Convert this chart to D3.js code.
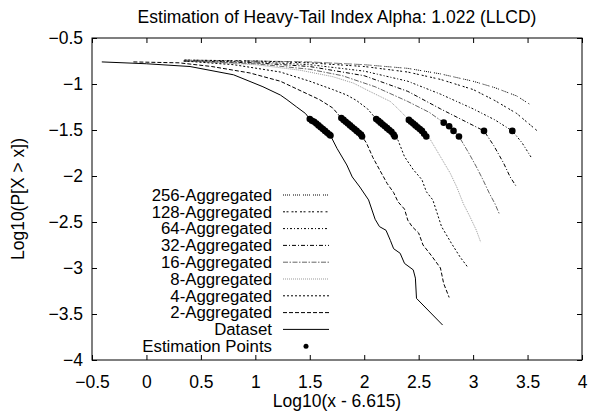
<!DOCTYPE html>
<html lang="en">
<head>
<meta charset="utf-8">
<title>Heavy-Tail Index LLCD</title>
<script src="https://cdnjs.cloudflare.com/ajax/libs/d3/7.8.5/d3.min.js"></script>
<style>
  body { margin: 0; background: #fff; }
  text { font-family: "Liberation Sans", Arial, sans-serif; font-size: 17.5px; fill: #000; }
</style>
</head>
<body>
<script>
// series values: [log10(x - 6.615), log10(P[X > x])]
var dataset = [[-0.41,-0.76],[0.0,-0.78],[0.4,-0.81],[0.8,-0.90],[1.07,-1.03],[1.23,-1.12],[1.29,-1.17],[1.38,-1.25],[1.46,-1.32],[1.50,-1.38],[1.56,-1.43],[1.62,-1.49],[1.69,-1.56],[1.75,-1.70],[1.84,-1.88],[1.89,-2.01],[1.96,-2.12],[2.04,-2.26],[2.10,-2.47],[2.14,-2.55],[2.20,-2.59],[2.24,-2.70],[2.27,-2.79],[2.33,-2.84],[2.37,-2.95],[2.45,-3.02],[2.47,-3.11],[2.48,-3.33],[2.72,-3.62]];
var agg2 = [[-0.12,-0.76],[0.3,-0.77],[0.6,-0.81],[0.95,-0.88],[1.23,-0.97],[1.41,-1.07],[1.59,-1.17],[1.71,-1.26],[1.79,-1.37],[1.88,-1.46],[1.98,-1.57],[2.02,-1.64],[2.08,-1.80],[2.14,-1.93],[2.21,-2.08],[2.27,-2.18],[2.31,-2.28],[2.37,-2.36],[2.40,-2.48],[2.44,-2.55],[2.50,-2.62],[2.54,-2.75],[2.62,-2.87],[2.70,-3.00],[2.73,-3.17],[2.78,-3.32]];
var agg4 = [[0.34,-0.75],[0.8,-0.79],[1.23,-0.87],[1.5,-0.97],[1.71,-1.06],[1.84,-1.12],[1.93,-1.18],[2.03,-1.27],[2.11,-1.38],[2.20,-1.47],[2.28,-1.57],[2.31,-1.61],[2.37,-1.79],[2.45,-1.93],[2.53,-2.04],[2.57,-2.17],[2.63,-2.26],[2.71,-2.55],[2.80,-2.73],[2.88,-2.88],[2.95,-2.99]];
var agg8 = [[0.37,-0.75],[1.0,-0.79],[1.41,-0.85],[1.71,-0.92],[1.90,-0.99],[2.05,-1.08],[2.24,-1.19],[2.32,-1.28],[2.41,-1.39],[2.50,-1.48],[2.57,-1.57],[2.60,-1.59],[2.70,-1.79],[2.79,-1.97],[2.85,-2.12],[2.91,-2.30],[2.97,-2.44],[3.03,-2.59],[3.07,-2.72]];
var agg16 = [[0.35,-0.75],[1.0,-0.78],[1.5,-0.84],[1.8,-0.91],[2.1,-1.03],[2.4,-1.19],[2.6,-1.31],[2.73,-1.42],[2.78,-1.46],[2.82,-1.51],[2.87,-1.57],[2.96,-1.75],[3.03,-1.90],[3.09,-2.04],[3.15,-2.19],[3.20,-2.30],[3.24,-2.41]];
var agg32 = [[0.35,-0.75],[1.0,-0.77],[1.5,-0.81],[2.0,-0.91],[2.4,-1.08],[2.7,-1.27],[2.9,-1.39],[3.10,-1.51],[3.19,-1.67],[3.28,-1.86],[3.34,-2.01],[3.40,-2.12]];
var agg64 = [[0.35,-0.75],[1.0,-0.76],[1.5,-0.79],[2.0,-0.86],[2.4,-0.97],[2.7,-1.11],[3.0,-1.27],[3.2,-1.39],[3.36,-1.51],[3.45,-1.64],[3.54,-1.81]];
var agg128 = [[0.35,-0.74],[1.0,-0.75],[1.5,-0.77],[2.0,-0.81],[2.4,-0.87],[2.7,-0.95],[3.0,-1.06],[3.2,-1.18],[3.4,-1.32],[3.59,-1.51]];
var agg256 = [[0.35,-0.74],[1.0,-0.75],[1.5,-0.76],[2.0,-0.79],[2.4,-0.83],[2.7,-0.89],[3.0,-0.97],[3.2,-1.04],[3.4,-1.13],[3.52,-1.22]];

var estPoints = [
  [1.50,-1.38],[1.52,-1.40],[1.54,-1.41],[1.56,-1.43],[1.58,-1.45],[1.60,-1.47],[1.62,-1.49],[1.64,-1.51],[1.66,-1.53],[1.68,-1.55],[1.69,-1.56],
  [1.79,-1.37],[1.81,-1.39],[1.83,-1.41],[1.85,-1.43],[1.87,-1.45],[1.89,-1.47],[1.91,-1.49],[1.93,-1.51],[1.95,-1.53],[1.97,-1.55],[1.98,-1.57],
  [2.11,-1.38],[2.13,-1.40],[2.15,-1.42],[2.17,-1.44],[2.19,-1.46],[2.21,-1.48],[2.23,-1.50],[2.25,-1.52],[2.27,-1.55],[2.28,-1.57],
  [2.41,-1.39],[2.43,-1.41],[2.45,-1.43],[2.47,-1.45],[2.49,-1.47],[2.51,-1.49],[2.53,-1.51],[2.55,-1.54],[2.57,-1.57],
  [2.73,-1.42],[2.78,-1.46],[2.82,-1.51],[2.87,-1.57],
  [3.10,-1.51],
  [3.36,-1.51]
];

var xTicks = [-0.5, 0, 0.5, 1, 1.5, 2, 2.5, 3, 3.5, 4];
var yTicks = [-0.5, -1, -1.5, -2, -2.5, -3, -3.5, -4];

var titleText = "Estimation of Heavy-Tail Index Alpha: 1.022 (LLCD)";
var xTitle = "Log10(x - 6.615)";
var yTitle = "Log10(P[X > x])";

// legend entries, top to bottom
var series = [
  {name: "256-Aggregated", data: agg256, dash: "1,1,1,1,1,1,1,3", color: "#000"},
  {name: "128-Aggregated", data: agg128, dash: "2,1.5,2,3", color: "#000"},
  {name: "64-Aggregated", data: agg64, dash: "2,2,1,2", color: "#000"},
  {name: "32-Aggregated", data: agg32, dash: "4,2,1,2", color: "#000"},
  {name: "16-Aggregated", data: agg16, dash: "5,1.5,1.5,1.5", color: "#666"},
  {name: "8-Aggregated", data: agg8, dash: "1,1", color: "#999"},
  {name: "4-Aggregated", data: agg4, dash: "2,2", color: "#000"},
  {name: "2-Aggregated", data: agg2, dash: "4,2", color: "#000"},
  {name: "Dataset", data: dataset, dash: null, color: "#000"}
];

var w = 597, h = 413;
var margin = {left: 92, right: 15, top: 38, bottom: 53};

var svg = d3.select("body").append("svg")
  .attr("width", w)
  .attr("height", h);

var x = d3.scaleLinear().domain([-0.5, 4]).range([margin.left, w - margin.right]);
var y = d3.scaleLinear().domain([-4, -0.5]).range([h - margin.bottom, margin.top]);

var line = d3.line()
  .x(function(d) { return x(d[0]); })
  .y(function(d) { return y(d[1]); });

// curves
series.forEach(function(s) {
  svg.append("path")
    .datum(s.data)
    .attr("d", line)
    .attr("fill", "none")
    .attr("stroke", s.color)
    .attr("stroke-width", 1)
    .attr("stroke-dasharray", s.dash);
});

// estimation points
svg.selectAll("circle.est")
  .data(estPoints)
  .enter()
  .append("circle")
  .attr("class", "est")
  .attr("cx", function(d) { return x(d[0]); })
  .attr("cy", function(d) { return y(d[1]); })
  .attr("r", 3.3)
  .attr("fill", "#000");

// axes: ticks inward on all four sides
var tickLen = 5;
svg.append("g")
  .attr("transform", "translate(0," + y(-4) + ")")
  .call(d3.axisBottom(x).tickValues(xTicks).tickSize(-tickLen).tickPadding(16).tickFormat(d3.format("")))
  .call(function(g) { g.select(".domain").remove(); });
svg.append("g")
  .attr("transform", "translate(0," + y(-0.5) + ")")
  .call(d3.axisTop(x).tickValues(xTicks).tickSize(-tickLen).tickFormat(""))
  .call(function(g) { g.select(".domain").remove(); });
svg.append("g")
  .attr("transform", "translate(" + x(-0.5) + ",0)")
  .call(d3.axisLeft(y).tickValues(yTicks).tickSize(-tickLen).tickPadding(9).tickFormat(d3.format("")))
  .call(function(g) { g.select(".domain").remove(); });
svg.append("g")
  .attr("transform", "translate(" + x(4) + ",0)")
  .call(d3.axisRight(y).tickValues(yTicks).tickSize(-tickLen).tickFormat(""))
  .call(function(g) { g.select(".domain").remove(); });

svg.selectAll(".tick line").attr("stroke", "#000");
svg.selectAll(".tick text").style("font-size", "17.5px");

// frame
svg.append("rect")
  .attr("x", x(-0.5))
  .attr("y", y(-0.5))
  .attr("width", x(4) - x(-0.5))
  .attr("height", y(-4) - y(-0.5))
  .attr("fill", "none")
  .attr("stroke", "#000")
  .attr("stroke-width", 1);

// titles
svg.append("text")
  .attr("x", (x(-0.5) + x(4)) / 2)
  .attr("y", 23)
  .attr("text-anchor", "middle")
  .text(titleText);

svg.append("text")
  .attr("x", (x(-0.5) + x(4)) / 2)
  .attr("y", 407)
  .attr("text-anchor", "middle")
  .text(xTitle);

svg.append("text")
  .attr("transform", "translate(24," + ((y(-0.5) + y(-4)) / 2) + ") rotate(-90)")
  .attr("text-anchor", "middle")
  .text(yTitle);

// legend
var legX = 272, legY = 195, legStep = 16.8;
var leg = svg.append("g").style("font-size", "16.8px");
series.forEach(function(s, i) {
  var ly = legY + i * legStep;
  leg.append("text")
    .attr("x", legX)
    .attr("y", ly)
    .attr("dy", "0.35em")
    .attr("text-anchor", "end")
    .style("font-size", "16.8px")
    .text(s.name);
  leg.append("line")
    .attr("x1", 283).attr("x2", 329)
    .attr("y1", ly).attr("y2", ly)
    .attr("stroke", s.color)
    .attr("stroke-width", 1)
    .attr("stroke-dasharray", s.dash);
});
var ly = legY + series.length * legStep;
leg.append("text")
  .attr("x", legX)
  .attr("y", ly)
  .attr("dy", "0.35em")
  .attr("text-anchor", "end")
  .style("font-size", "16.8px")
  .text("Estimation Points");
leg.append("circle")
  .attr("cx", 306)
  .attr("cy", ly)
  .attr("r", 2.5)
  .attr("fill", "#000");
</script>
</body>
</html>
